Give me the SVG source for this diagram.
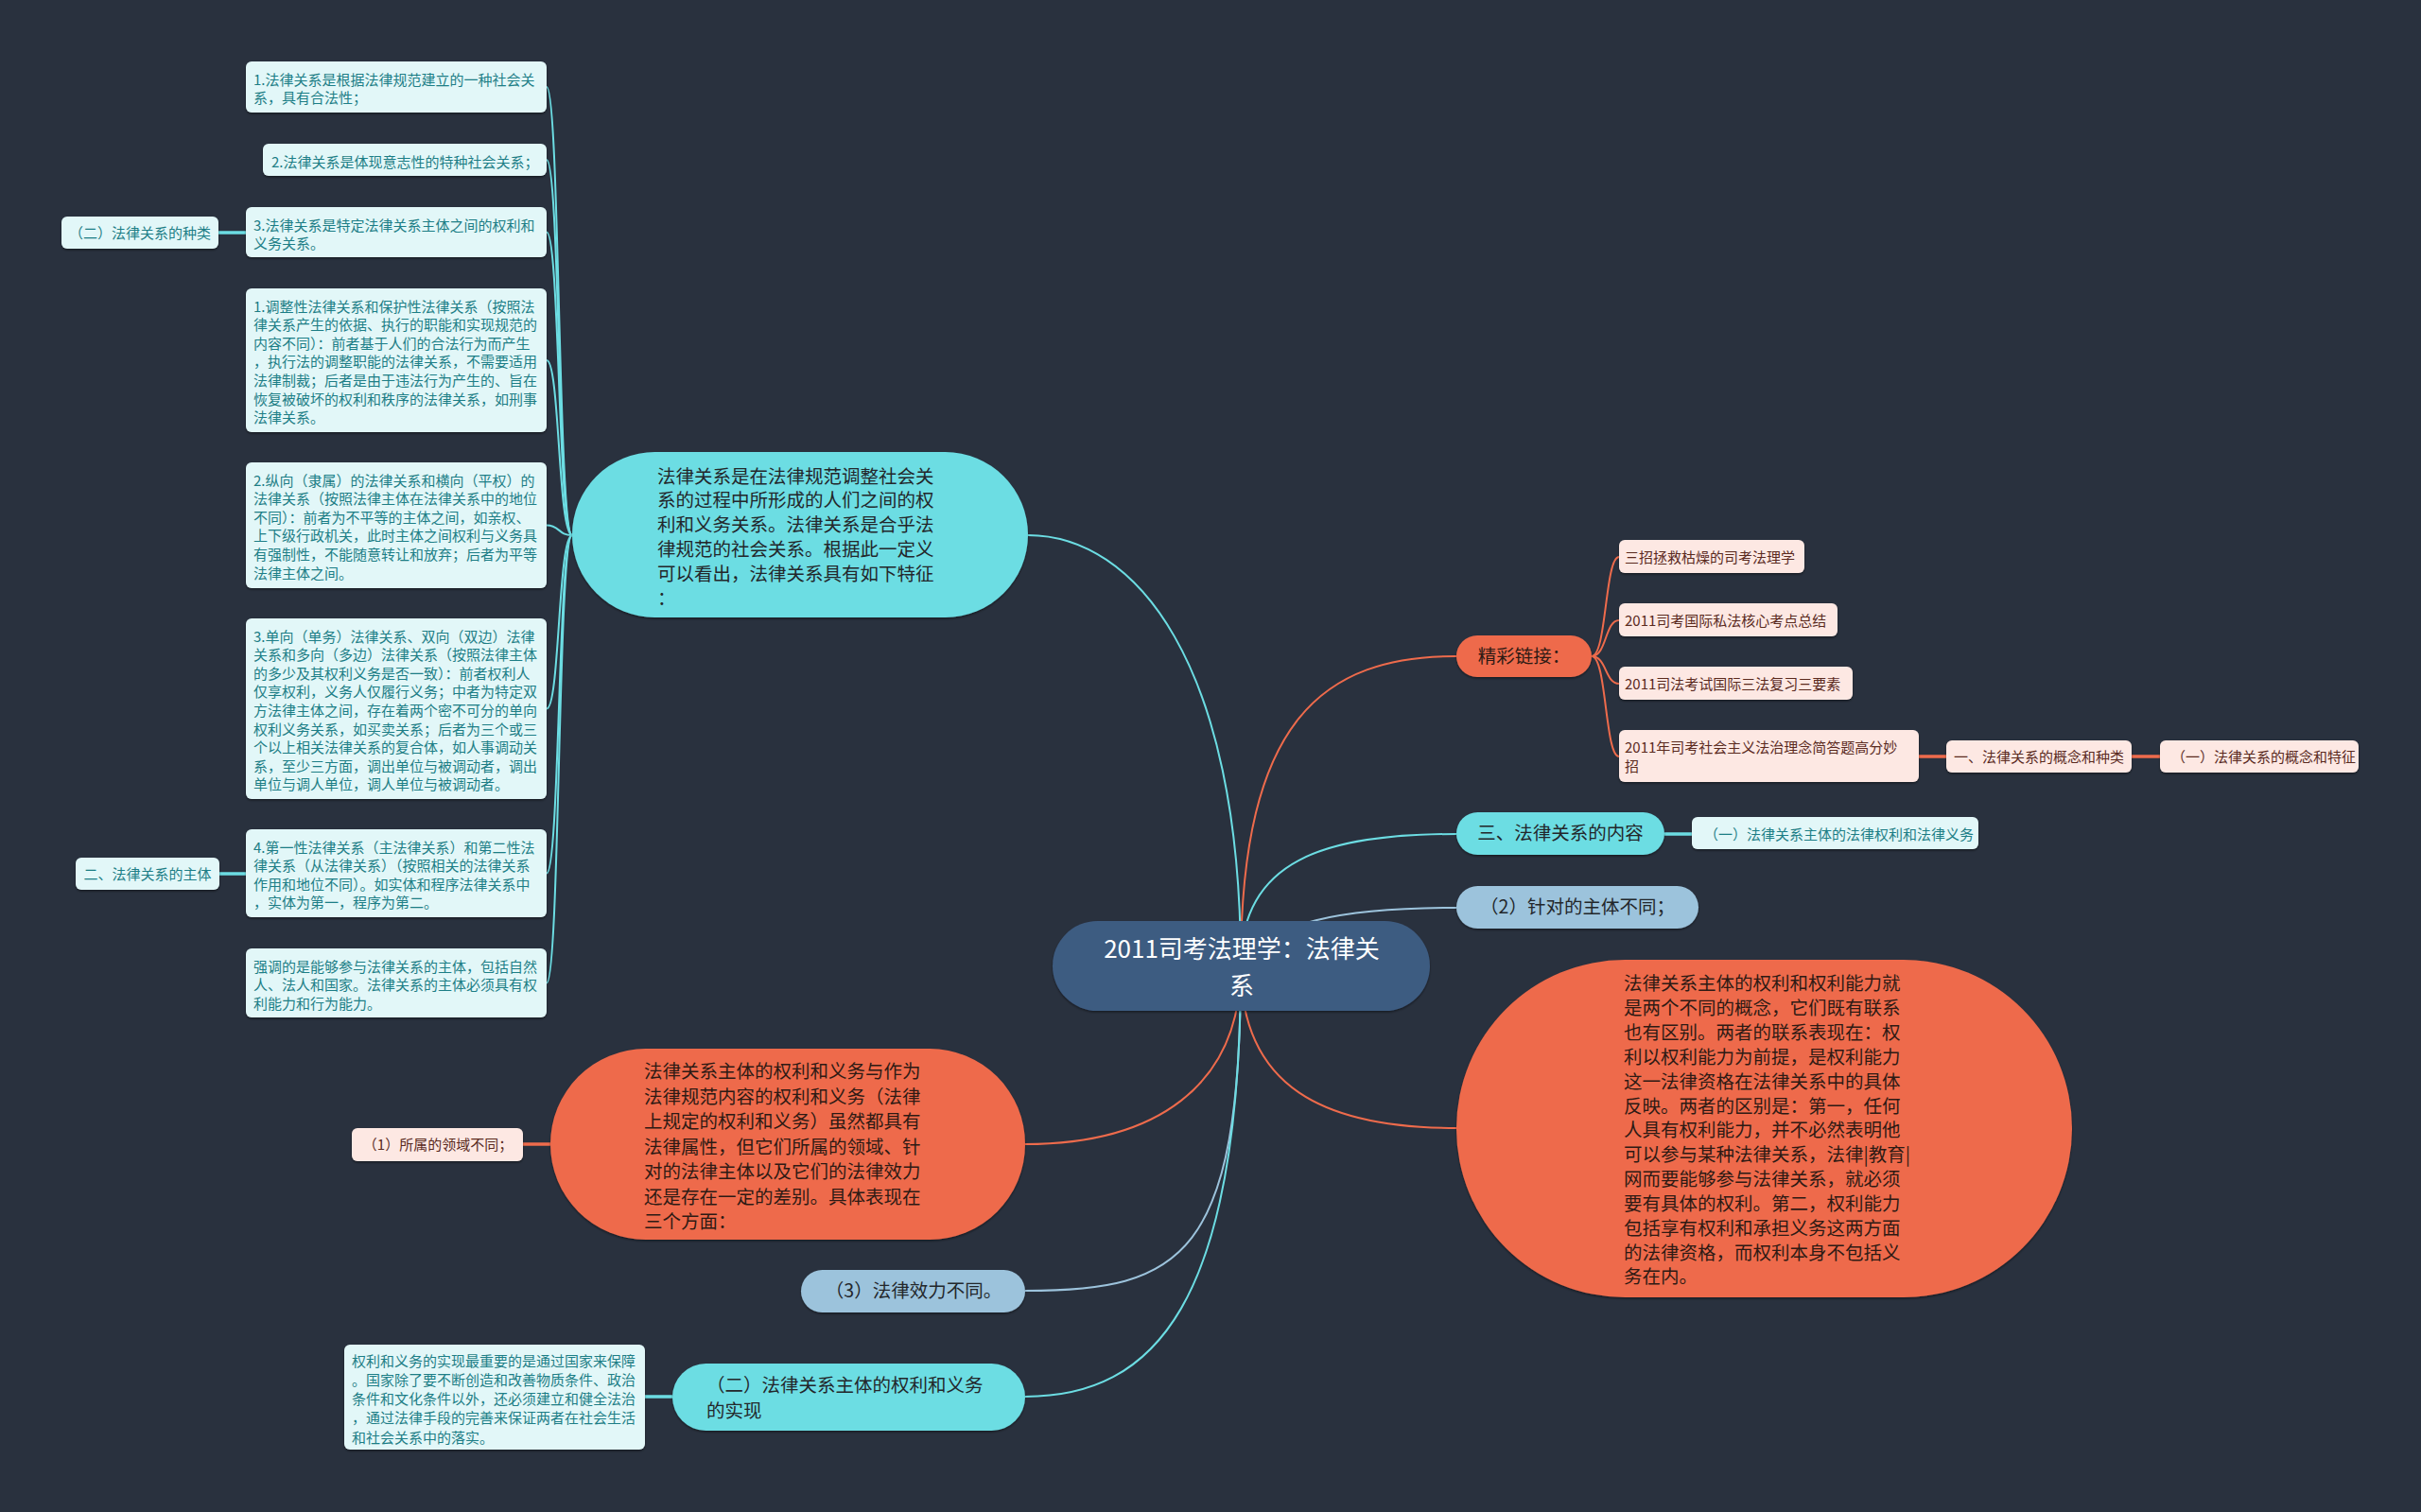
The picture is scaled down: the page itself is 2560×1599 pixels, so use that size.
<svg xmlns="http://www.w3.org/2000/svg" width="2560" height="1599" viewBox="0 0 2560 1599">
<defs>
<filter id="sh" x="-10%" y="-10%" width="120%" height="130%"><feDropShadow dx="0" dy="1.5" stdDeviation="1.2" flood-color="#000" flood-opacity="0.45"/></filter>
<style>
text{font-family:"Noto Sans CJK SC","Noto Sans",sans-serif;}
.lc{fill:#e2f7f8;filter:url(#sh);}
.pk{fill:#fde8e3;filter:url(#sh);}
.cy{fill:#6cdde3;filter:url(#sh);}
.or{fill:#ee6b4c;filter:url(#sh);}
.lb{fill:#9cc3dc;filter:url(#sh);}
.tl{font-size:15px;fill:#1d7e86;}
.tp{font-size:15px;fill:#5a2a1e;}
.tb{font-size:19.5px;fill:#23272b;}
.to{font-size:19.5px;fill:#2e1a14;}
.tw{font-size:26px;fill:#ffffff;}
.c-cy{fill:none;stroke:#6cdde3;stroke-width:2;}
.c-or{fill:none;stroke:#ee6b4c;stroke-width:2;}
.c-lb{fill:none;stroke:#9cc3dc;stroke-width:2;}
.c-cy3{fill:none;stroke:#6cdde3;stroke-width:3.5;}
.c-or3{fill:none;stroke:#ee6b4c;stroke-width:3.5;}
</style>
</defs>
<rect x="0" y="0" width="2560" height="1599" fill="#29313e"/>

<g id="connectors">
<!-- central to children -->
<path class="c-cy" d="M1312 1021 C1312 700,1200 566,1087 566"/>
<path class="c-or" d="M1312 1021 C1312 760,1400 694,1540 694"/>
<path class="c-cy" d="M1312 1021 C1312 910,1400 882,1540 882"/>
<path class="c-lb" d="M1312 1021 C1340 975,1420 960,1540 960"/>
<path class="c-or" d="M1312 1021 C1312 1150,1400 1193,1540 1193"/>
<path class="c-or" d="M1312 1021 C1312 1150,1220 1210,1084 1210"/>
<path class="c-lb" d="M1312 1021 C1312 1330,1250 1365,1084 1365"/>
<path class="c-cy" d="M1312 1021 C1312 1380,1220 1477,1084 1477"/>
<!-- top bubble to left column -->
<path class="c-cy" d="M605 566 C590 566,592 92,578 92"/>
<path class="c-cy" d="M605 566 C590 566,592 169,578 169"/>
<path class="c-cy" d="M605 566 C590 566,592 245.5,578 245.5"/>
<path class="c-cy" d="M605 566 C590 566,592 381,578 381"/>
<path class="c-cy" d="M605 566 C590 566,592 555.5,578 555.5"/>
<path class="c-cy" d="M605 566 C590 566,592 749.5,578 749.5"/>
<path class="c-cy" d="M605 566 C590 566,592 923.5,578 923.5"/>
<path class="c-cy" d="M605 566 C590 566,592 1039.5,578 1039.5"/>
<path class="c-cy3" d="M260 246 L231 246"/>
<path class="c-cy3" d="M260 924 L232 924"/>
<!-- lower left -->
<path class="c-or3" d="M582 1210 L553 1210"/>
<path class="c-cy3" d="M711 1477 L682 1477"/>
<!-- right links -->
<path class="c-or" d="M1683 694 C1699 694,1697 589,1712 589"/>
<path class="c-or" d="M1683 694 C1699 694,1697 656,1712 656"/>
<path class="c-or" d="M1683 694 C1699 694,1697 723,1712 723"/>
<path class="c-or" d="M1683 694 C1699 694,1697 800,1712 800"/>
<path class="c-or3" d="M2029 800 L2058 800"/>
<path class="c-or3" d="M2254 800 L2284 800"/>
<path class="c-cy3" d="M1760 882 L1789 882"/>
</g>

<g id="central">
<rect x="1113" y="974" width="399" height="95" rx="47.5" fill="#3e5b81" filter="url(#sh)"/>
<text class="tw" text-anchor="middle"><tspan x="1313" y="1013">2011司考法理学：法律关</tspan><tspan x="1313" y="1052">系</tspan></text>
</g>

<g id="node-definition">
<rect class="cy" x="605" y="478" width="482" height="175" rx="87.5"/>
<text class="tb"><tspan x="695" y="510.5">法律关系是在法律规范调整社会关</tspan><tspan x="695" y="536.4">系的过程中所形成的人们之间的权</tspan><tspan x="695" y="562.3">利和义务关系。法律关系是合乎法</tspan><tspan x="695" y="588.2">律规范的社会关系。根据此一定义</tspan><tspan x="695" y="614.1">可以看出，法律关系具有如下特征</tspan><tspan x="695" y="640">：</tspan></text>
</g>

<g id="node-f1">
<rect class="lc" x="260" y="65" width="318" height="54" rx="6"/>
<text class="tl"><tspan x="268" y="89.5">1.法律关系是根据法律规范建立的一种社会关</tspan><tspan x="268" y="109.1">系，具有合法性；</tspan></text>
</g>
<g id="node-f2">
<rect class="lc" x="278" y="152" width="300" height="34" rx="6"/>
<text class="tl"><tspan x="287" y="176.5">2.法律关系是体现意志性的特种社会关系；</tspan></text>
</g>
<g id="node-f3">
<rect class="lc" x="260" y="219" width="318" height="53" rx="6"/>
<text class="tl"><tspan x="268" y="243.5">3.法律关系是特定法律关系主体之间的权利和</tspan><tspan x="268" y="263.1">义务关系。</tspan></text>
</g>
<g id="node-kinds">
<rect class="lc" x="65" y="229" width="166" height="34" rx="6"/>
<text class="tl" text-anchor="middle"><tspan x="148" y="251.7">（二）法律关系的种类</tspan></text>
</g>
<g id="node-k1">
<rect class="lc" x="260" y="305" width="318" height="152" rx="6"/>
<text class="tl"><tspan x="268" y="329.5">1.调整性法律关系和保护性法律关系（按照法</tspan><tspan x="268" y="349.1">律关系产生的依据、执行的职能和实现规范的</tspan><tspan x="268" y="368.7">内容不同）：前者基于人们的合法行为而产生</tspan><tspan x="268" y="388.3">，执行法的调整职能的法律关系，不需要适用</tspan><tspan x="268" y="407.9">法律制裁；后者是由于违法行为产生的、旨在</tspan><tspan x="268" y="427.5">恢复被破坏的权利和秩序的法律关系，如刑事</tspan><tspan x="268" y="447.1">法律关系。</tspan></text>
</g>
<g id="node-k2">
<rect class="lc" x="260" y="489" width="318" height="133" rx="6"/>
<text class="tl"><tspan x="268" y="513.5">2.纵向（隶属）的法律关系和横向（平权）的</tspan><tspan x="268" y="533.1">法律关系（按照法律主体在法律关系中的地位</tspan><tspan x="268" y="552.7">不同）：前者为不平等的主体之间，如亲权、</tspan><tspan x="268" y="572.3">上下级行政机关，此时主体之间权利与义务具</tspan><tspan x="268" y="591.9">有强制性，不能随意转让和放弃；后者为平等</tspan><tspan x="268" y="611.5">法律主体之间。</tspan></text>
</g>
<g id="node-k3">
<rect class="lc" x="260" y="654" width="318" height="191" rx="6"/>
<text class="tl"><tspan x="268" y="678.5">3.单向（单务）法律关系、双向（双边）法律</tspan><tspan x="268" y="698.1">关系和多向（多边）法律关系（按照法律主体</tspan><tspan x="268" y="717.7">的多少及其权利义务是否一致）：前者权利人</tspan><tspan x="268" y="737.3">仅享权利，义务人仅履行义务；中者为特定双</tspan><tspan x="268" y="756.9">方法律主体之间，存在着两个密不可分的单向</tspan><tspan x="268" y="776.5">权利义务关系，如买卖关系；后者为三个或三</tspan><tspan x="268" y="796.1">个以上相关法律关系的复合体，如人事调动关</tspan><tspan x="268" y="815.7">系，至少三方面，调出单位与被调动者，调出</tspan><tspan x="268" y="835.3">单位与调人单位，调人单位与被调动者。</tspan></text>
</g>
<g id="node-k4">
<rect class="lc" x="260" y="877" width="318" height="93" rx="6"/>
<text class="tl"><tspan x="268" y="901.5">4.第一性法律关系（主法律关系）和第二性法</tspan><tspan x="268" y="921.1">律关系（从法律关系）（按照相关的法律关系</tspan><tspan x="268" y="940.7">作用和地位不同）。如实体和程序法律关系中</tspan><tspan x="268" y="960.3">，实体为第一，程序为第二。</tspan></text>
</g>
<g id="node-subject">
<rect class="lc" x="80" y="907" width="152" height="34" rx="6"/>
<text class="tl" text-anchor="middle"><tspan x="156" y="929.7">二、法律关系的主体</tspan></text>
</g>
<g id="node-emph">
<rect class="lc" x="260" y="1003" width="318" height="73" rx="6"/>
<text class="tl"><tspan x="268" y="1027.5">强调的是能够参与法律关系的主体，包括自然</tspan><tspan x="268" y="1047.1">人、法人和国家。法律关系的主体必须具有权</tspan><tspan x="268" y="1066.7">利能力和行为能力。</tspan></text>
</g>

<g id="node-rights-duties">
<rect class="or" x="582" y="1109" width="502" height="202" rx="101"/>
<text class="to"><tspan x="681" y="1140.4">法律关系主体的权利和义务与作为</tspan><tspan x="681" y="1166.9">法律规范内容的权利和义务（法律</tspan><tspan x="681" y="1193.4">上规定的权利和义务）虽然都具有</tspan><tspan x="681" y="1219.9">法律属性，但它们所属的领域、针</tspan><tspan x="681" y="1246.4">对的法律主体以及它们的法律效力</tspan><tspan x="681" y="1272.9">还是存在一定的差别。具体表现在</tspan><tspan x="681" y="1299.4">三个方面：</tspan></text>
</g>
<g id="node-domain">
<rect class="pk" x="372" y="1193" width="181" height="35" rx="6"/>
<text class="tp" text-anchor="middle"><tspan x="463" y="1215.7">（1）所属的领域不同；</tspan></text>
</g>
<g id="node-effect">
<rect class="lb" x="847" y="1343" width="237" height="45" rx="22.5"/>
<text class="tb" text-anchor="middle"><tspan x="966" y="1372.4">（3）法律效力不同。</tspan></text>
</g>
<g id="node-realize">
<rect class="cy" x="711" y="1442" width="373" height="71" rx="35.5"/>
<text class="tb"><tspan x="747" y="1472.4">（二）法律关系主体的权利和义务</tspan><tspan x="747" y="1499.4">的实现</tspan></text>
</g>
<g id="node-realize-detail">
<rect class="lc" x="364" y="1422" width="318" height="111" rx="6"/>
<text class="tl"><tspan x="372" y="1444.7">权利和义务的实现最重要的是通过国家来保障</tspan><tspan x="372" y="1464.9">。国家除了要不断创造和改善物质条件、政治</tspan><tspan x="372" y="1485.1">条件和文化条件以外，还必须建立和健全法治</tspan><tspan x="372" y="1505.3">，通过法律手段的完善来保证两者在社会生活</tspan><tspan x="372" y="1525.5">和社会关系中的落实。</tspan></text>
</g>

<g id="node-links">
<rect class="or" x="1540" y="672" width="143" height="44" rx="22"/>
<text class="to" text-anchor="middle"><tspan x="1611.5" y="701.4">精彩链接：</tspan></text>
</g>
<g id="node-link1">
<rect class="pk" x="1712" y="571" width="196" height="35" rx="6"/>
<text class="tp"><tspan x="1718" y="594.7">三招拯救枯燥的司考法理学</tspan></text>
</g>
<g id="node-link2">
<rect class="pk" x="1712" y="638" width="231" height="35" rx="6"/>
<text class="tp"><tspan x="1718" y="661.7">2011司考国际私法核心考点总结</tspan></text>
</g>
<g id="node-link3">
<rect class="pk" x="1712" y="705" width="247" height="35" rx="6"/>
<text class="tp"><tspan x="1718" y="728.7">2011司法考试国际三法复习三要素</tspan></text>
</g>
<g id="node-link4">
<rect class="pk" x="1712" y="772" width="317" height="55" rx="6"/>
<text class="tp"><tspan x="1718" y="795.7">2011年司考社会主义法治理念简答题高分妙</tspan><tspan x="1718" y="815.7">招</tspan></text>
</g>
<g id="node-concept">
<rect class="pk" x="2058" y="783" width="196" height="34" rx="6"/>
<text class="tp"><tspan x="2066" y="805.7">一、法律关系的概念和种类</tspan></text>
</g>
<g id="node-concept1">
<rect class="pk" x="2284" y="783" width="210" height="34" rx="6"/>
<text class="tp"><tspan x="2296" y="805.7">（一）法律关系的概念和特征</tspan></text>
</g>

<g id="node-content">
<rect class="cy" x="1540" y="859" width="220" height="45" rx="22.5"/>
<text class="tb" text-anchor="middle"><tspan x="1650" y="888.4">三、法律关系的内容</tspan></text>
</g>
<g id="node-content1">
<rect class="lc" x="1789" y="864" width="303" height="34" rx="6"/>
<text class="tl"><tspan x="1802" y="887.7">（一）法律关系主体的法律权利和法律义务</tspan></text>
</g>
<g id="node-target">
<rect class="lb" x="1540" y="937" width="256" height="45" rx="22.5"/>
<text class="tb" text-anchor="middle"><tspan x="1668" y="966.4">（2）针对的主体不同；</tspan></text>
</g>

<g id="node-capacity">
<rect class="or" x="1540" y="1015" width="651" height="357" rx="178.5"/>
<text class="to"><tspan x="1717" y="1047.4">法律关系主体的权利和权利能力就</tspan><tspan x="1717" y="1073.2">是两个不同的概念，它们既有联系</tspan><tspan x="1717" y="1099.1">也有区别。两者的联系表现在：权</tspan><tspan x="1717" y="1124.9">利以权利能力为前提，是权利能力</tspan><tspan x="1717" y="1150.7">这一法律资格在法律关系中的具体</tspan><tspan x="1717" y="1176.6">反映。两者的区别是：第一，任何</tspan><tspan x="1717" y="1202.4">人具有权利能力，并不必然表明他</tspan><tspan x="1717" y="1228.2">可以参与某种法律关系，法律|教育|</tspan><tspan x="1717" y="1254.1">网而要能够参与法律关系，就必须</tspan><tspan x="1717" y="1279.9">要有具体的权利。第二，权利能力</tspan><tspan x="1717" y="1305.7">包括享有权利和承担义务这两方面</tspan><tspan x="1717" y="1331.6">的法律资格，而权利本身不包括义</tspan><tspan x="1717" y="1357.4">务在内。</tspan></text>
</g>
</svg>
